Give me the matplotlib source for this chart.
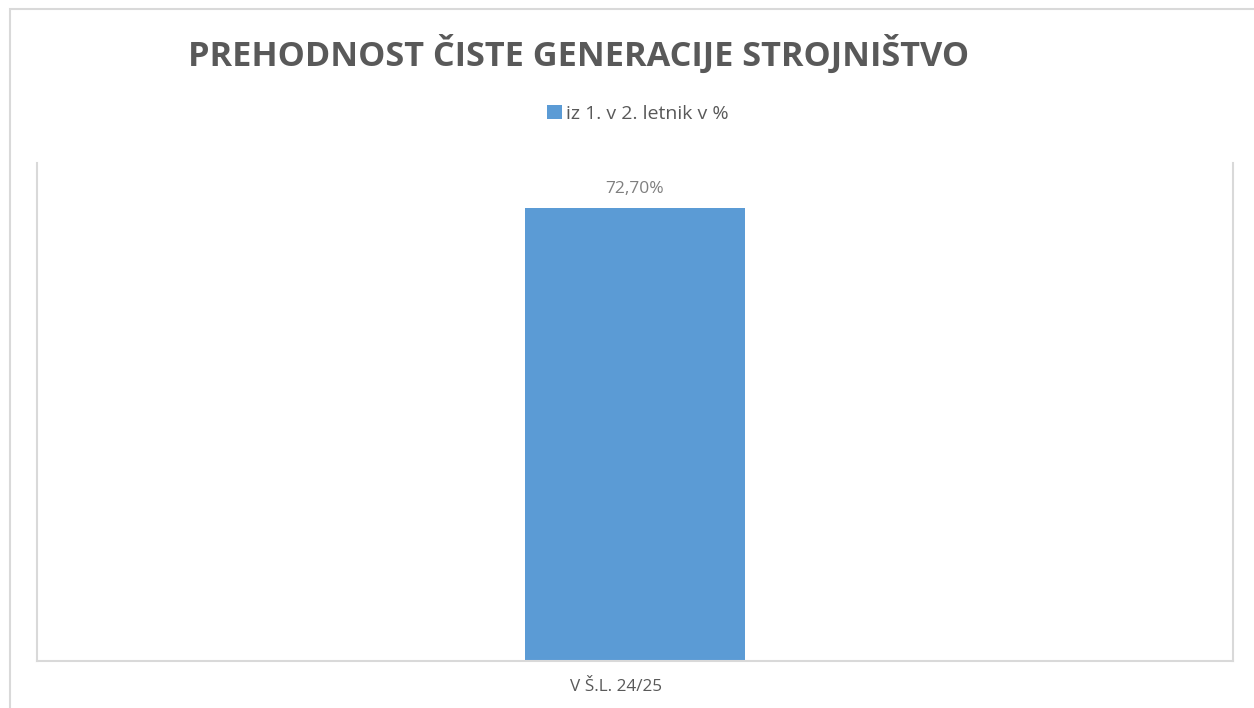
import matplotlib.pyplot as plt
import matplotlib.transforms as mtransforms
from matplotlib.patches import Rectangle

categories = ["V Š.L. 24/25"]
values = [72.7]
series_name = "iz 1. v 2. letnik v %"
title = "PREHODNOST ČISTE GENERACIJE STROJNIŠTVO"

plt.rcParams['font.family'] = ['Open Sans', 'DejaVu Sans']
grey = '#595959'
bar_color = '#5B9BD5'
line_color = '#D9D9D9'

fig = plt.figure(figsize=(12.54, 7.08), dpi=100)
ax = fig.add_axes([37 / 1254, 1 - 661 / 708, (1233 - 37) / 1254, (661 - 163) / 708])

# outer chart frame (only left and top edges are inside the picture)
fig.patches.append(Rectangle((10 / 1254, -0.1), 1.5, 1 - 9 / 708 + 0.1,
                             transform=fig.transFigure, fill=False,
                             edgecolor=line_color, linewidth=1.5))

x = list(range(len(categories)))
bars = ax.bar(x, values, width=0.184, color=bar_color, label=series_name)
ax.set_xlim(-0.5, 0.5)
ax.set_ylim(0, 80)

for b, v in zip(bars, values):
    ax.annotate(f"{v:.2f}%".replace('.', ','), (b.get_x() + b.get_width() / 2, v),
                xytext=(0, 8), textcoords='offset points', ha='center', va='bottom',
                fontsize=12.5, color='#7F7F7F')

ax.set_xticks(x)
ax.set_xticklabels(categories, fontsize=12.3, color=grey)
ax.tick_params(axis='x', length=0, pad=13)
for lbl in ax.get_xticklabels():
    lbl.set_transform(lbl.get_transform() + mtransforms.ScaledTranslation(-19 / 100, 0, fig.dpi_scale_trans))
ax.set_yticks([])

for s in ['left', 'right', 'bottom']:
    ax.spines[s].set_color(line_color)
    ax.spines[s].set_linewidth(1.5)
ax.spines['top'].set_visible(False)

fig.text(579 / 1254, 1 - 54 / 708, title, ha='center', va='center',
         fontsize=24.7, fontweight='bold', color=grey)
fig.legend(handles=[bars], labels=[series_name], loc='center', bbox_to_anchor=(638 / 1254, 1 - 114 / 708),
           frameon=False, fontsize=14, handlelength=0.75, handleheight=0.75,
           handletextpad=0.25, labelcolor=grey)

fig.savefig('out.png', dpi=100)
